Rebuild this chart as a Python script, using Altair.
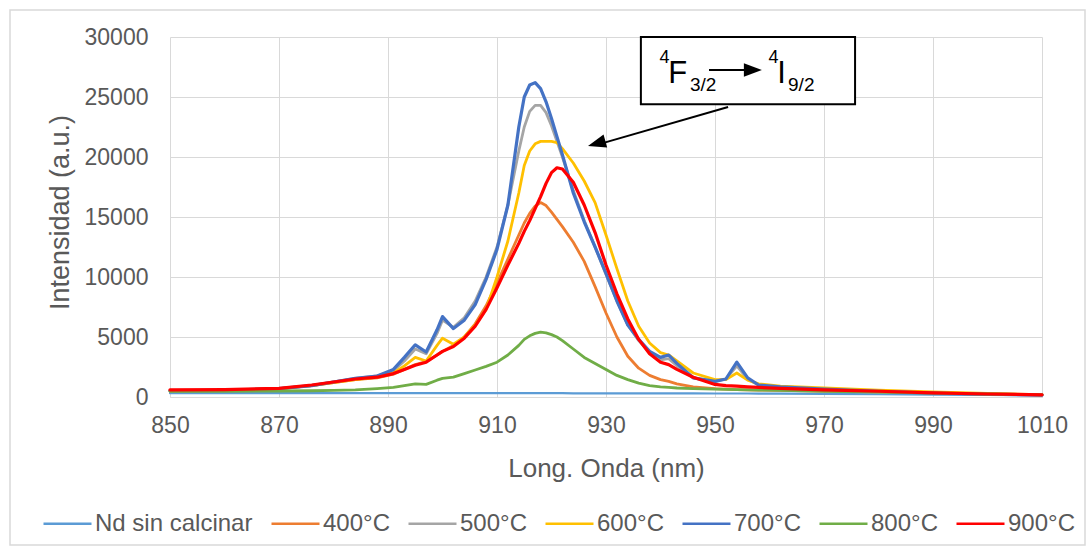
import altair as alt
import pandas as pd

# ---------------- data ----------------
wavelength = [850, 860, 870, 876, 880, 884, 888, 891, 893, 895,
              897, 899, 900, 902, 904, 906, 908, 910, 912, 914,
              915, 916, 917, 918, 919, 920, 921, 922, 924, 926,
              928, 930, 932, 934, 936, 938, 940, 941.5, 943, 946,
              950, 952, 954, 956, 958, 962, 970, 980, 990, 1000, 1010]

series_names = ["Nd sin calcinar", "400°C", "500°C", "600°C", "700°C", "800°C", "900°C"]
series_colors = ["#5B9BD5", "#ED7D31", "#A5A5A5", "#FFC000", "#4472C4", "#70AD47", "#FF0000"]

nd_sin_calcinar = [320, 320, 320, 320, 320, 320, 320, 320, 320, 320,
                   320, 320, 320, 320, 320, 320, 320, 320, 320, 320,
                   320, 320, 320, 320, 320, 320, 320, 320, 310, 310,
                   310, 310, 310, 300, 300, 300, 300, 300, 300, 300,
                   290, 290, 290, 290, 280, 280, 260, 230, 200, 170, 150]

t400 = [500, 540, 680, 950, 1200, 1450, 1600, 1900, 2300, 2700,
        2950, 3500, 3800, 4300, 5000, 6100, 7600, 9500, 11500, 13500,
        14500, 15300, 15900, 16200, 15950, 15400, 14800, 14200, 12900, 11300,
        9200, 7000, 5000, 3400, 2400, 1800, 1450, 1300, 1100, 850,
        700, 650, 620, 600, 580, 550, 500, 430, 340, 260, 190]

t500 = [520, 560, 700, 950, 1250, 1550, 1750, 2200, 3000, 4000,
        3600, 5300, 6400, 5800, 6600, 8000, 10000, 12500, 16000, 20500,
        22500, 23800, 24300, 24300, 23700, 22600, 21300, 20000, 17200, 14700,
        12500, 10200, 8000, 6000, 4700, 3700, 3100, 3200, 2600, 1600,
        1300, 1500, 2600, 1500, 1000, 850, 650, 480, 340, 240, 170]

t600 = [520, 560, 700, 950, 1200, 1450, 1650, 2000, 2600, 3300,
        3000, 4300, 4900, 4400, 5000, 6000, 7300, 10000, 13000, 17000,
        19300, 20500, 21100, 21300, 21300, 21300, 21200, 20700, 19500, 18000,
        16200, 13500, 10700, 8000, 5900, 4500, 3700, 3500, 3000, 2000,
        1450, 1450, 2000, 1400, 1100, 900, 750, 580, 420, 300, 200]

t700 = [520, 560, 700, 950, 1250, 1550, 1750, 2300, 3300, 4350,
        3750, 5600, 6700, 5700, 6400, 7700, 9800, 12300, 16000, 22500,
        25000, 26000, 26200, 25700, 24600, 23200, 21700, 20200, 17000, 14600,
        12500, 10300, 8000, 6000, 4800, 3800, 3300, 3500, 2800, 1600,
        1300, 1500, 2900, 1600, 1000, 850, 650, 480, 330, 230, 160]

t800 = [480, 480, 500, 520, 550, 600, 700, 800, 950, 1100,
        1050, 1400, 1550, 1650, 1950, 2250, 2550, 2900, 3500, 4300,
        4800, 5100, 5300, 5400, 5350, 5200, 5000, 4700, 4000, 3300,
        2800, 2300, 1800, 1450, 1150, 950, 850, 800, 750, 700,
        650, 630, 620, 600, 580, 550, 480, 400, 320, 250, 180]

t900 = [600, 620, 720, 1000, 1250, 1500, 1650, 1950, 2300, 2650,
        2900, 3500, 3800, 4200, 4900, 5900, 7300, 9100, 11000, 12800,
        13800, 14700, 15700, 16700, 17800, 18700, 19100, 19000, 17900, 16000,
        13700, 11000, 8600, 6500, 4800, 3600, 2900, 2700, 2300, 1650,
        1050, 950, 900, 850, 800, 720, 600, 480, 350, 250, 180]

series_values = [nd_sin_calcinar, t400, t500, t600, t700, t800, t900]
series_widths = [2.2, 2.8, 2.8, 2.8, 3.2, 2.8, 3.2]

x_ticks = [850, 870, 890, 910, 930, 950, 970, 990, 1010]
y_ticks = [0, 5000, 10000, 15000, 20000, 25000, 30000]

# annotation (in data coordinates)
box = {"x1": 936.4, "x2": 975.7, "y1": 30000, "y2": 24400}
ann_text = ["4", "F", "3/2", "4", "I", "9/2"]
ann_text_x = [939.8, 941.4, 945.4, 959.8, 961.4, 963.4]
ann_text_y = [27830, 26170, 25500, 27830, 26170, 25500]
ann_text_size = [18, 31, 19, 18, 31, 19]
arrow_x1 = [948.9, 952.4]
arrow_y1 = [27250, 24170]
arrow_x2 = [956.0, 928.6]
arrow_y2 = [27250, 21050]
head_x = [958.6, 926.7]
head_y = [27250, 20920]
head_angle = [0, 164.4]

# ---------------- build tables ----------------
rows = []
for order, (name, vals, w) in enumerate(zip(series_names, series_values, series_widths)):
    for wl, v in zip(wavelength, vals):
        rows.append({"wl": wl, "val": v, "serie": name, "ord": order, "w": w})
df = pd.DataFrame(rows)

FONT = "Liberation Sans"
GREY = "#595959"
GRID = "#D9D9D9"

x_scale = alt.Scale(domain=[850, 1010], nice=False, zero=False)
y_scale = alt.Scale(domain=[0, 30000], nice=False)

x_axis = alt.Axis(title="Long. Onda (nm)", values=x_ticks, format="d", grid=True,
                  ticks=False, labelPadding=17, labelFlush=False, domainColor=GRID,
                  titleY=71, titleBaseline="middle", titleFontSize=26)
y_axis = alt.Axis(title="Intensidad (a.u.)", values=y_ticks, format="d", grid=True,
                  ticks=False, domain=False, labelPadding=22,
                  titleX=-110, titleY=175, titleBaseline="middle", titleFontSize=27)

lines = alt.Chart(df).mark_line(strokeJoin="round", strokeCap="round").encode(
    x=alt.X("wl:Q", scale=x_scale, axis=x_axis),
    y=alt.Y("val:Q", scale=y_scale, axis=y_axis),
    color=alt.Color("serie:N", scale=alt.Scale(domain=series_names, range=series_colors),
                    sort=series_names,
                    legend=alt.Legend(title=None, orient="none", direction="horizontal",
                                      legendX=-128, legendY=461, symbolType="stroke",
                                      symbolSize=2304, symbolStrokeWidth=2.5,
                                      labelOffset=2, columnPadding=13, padding=0,
                                      labelFontSize=24, labelColor=GREY, labelFont=FONT)),
    strokeWidth=alt.StrokeWidth("w:Q", scale=None, legend=None),
    order=alt.Order("ord:Q"),
    detail="ord:N",
)

frame = alt.Chart(pd.DataFrame({"a": [0]})).mark_rect(
    fill="white", fillOpacity=0, stroke=GRID, strokeWidth=1.5
).encode(x=alt.value(-160), x2=alt.value(915), y=alt.value(-27), y2=alt.value(508))

box_df = pd.DataFrame([box])
box_layer = alt.Chart(box_df).mark_rect(fill="white", stroke="black", strokeWidth=2).encode(
    x=alt.X("x1:Q", scale=x_scale, axis=x_axis), x2="x2:Q",
    y=alt.Y("y1:Q", scale=y_scale, axis=y_axis), y2="y2:Q",
)

txt_df = pd.DataFrame({"t": ann_text, "x": ann_text_x, "y": ann_text_y, "s": ann_text_size})
txt_layer = alt.Chart(txt_df).mark_text(align="left", baseline="alphabetic", font=FONT,
                                         color="black").encode(
    x=alt.X("x:Q", scale=x_scale, axis=x_axis),
    y=alt.Y("y:Q", scale=y_scale, axis=y_axis),
    text="t:N",
    size=alt.Size("s:Q", scale=None, legend=None),
)

arr_df = pd.DataFrame({"x1": arrow_x1, "y1": arrow_y1, "x2": arrow_x2, "y2": arrow_y2})
arr_layer = alt.Chart(arr_df).mark_rule(color="black", strokeWidth=2).encode(
    x=alt.X("x1:Q", scale=x_scale, axis=x_axis), x2="x2:Q",
    y=alt.Y("y1:Q", scale=y_scale, axis=y_axis), y2="y2:Q",
)

head_layers = []
for hx, hy, ha in zip(head_x, head_y, head_angle):
    hd = pd.DataFrame({"x": [hx], "y": [hy]})
    head_layers.append(
        alt.Chart(hd).mark_point(shape="M0,0 L-2,-0.75 L-2,0.75 Z", filled=True, color="black",
                                 opacity=1, size=324, angle=ha).encode(
            x=alt.X("x:Q", scale=x_scale, axis=x_axis),
            y=alt.Y("y:Q", scale=y_scale, axis=y_axis),
        )
    )

chart = alt.layer(frame, lines, box_layer, arr_layer, *head_layers, txt_layer).properties(
    width=872, height=360,
    autosize=alt.AutoSizeParams(type="none"),
    padding={"left": 170, "top": 37, "right": 50, "bottom": 151},
    background="white",
).configure_axis(
    labelFont=FONT, labelFontSize=23, labelColor=GREY,
    titleFont=FONT, titleColor=GREY, titleFontWeight="normal",
    gridColor=GRID, gridWidth=1,
).configure_view(stroke=None)

chart.save("out.html", embed_options={"renderer": "svg", "actions": False})
